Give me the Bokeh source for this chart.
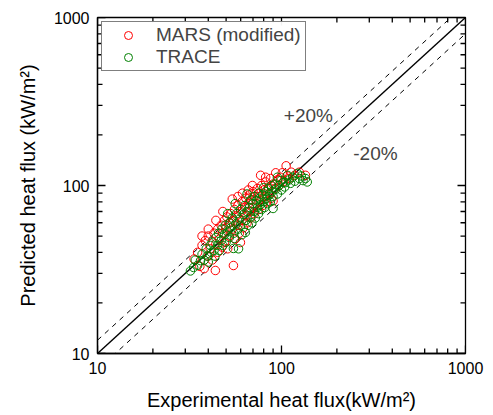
import math
from bokeh.plotting import figure
from bokeh.models import (FixedTicker, PrintfTickFormatter, Label, Legend,
                          LegendItem, Range1d)
from bokeh.embed import file_html
from bokeh.resources import INLINE

# ---- data (kW/m^2) ----
mars_x = [33.5, 35, 36, 37, 37, 38, 38.5, 40, 40, 40, 41, 42, 43, 43.7, 44, 44, 45, 45, 46, 47,
          47.5, 48, 48, 49, 49, 50, 50.5, 51, 52, 52, 53, 54, 54, 54.8, 55, 55.5, 56, 57, 58, 58,
          58, 59, 59.8, 60, 61, 61, 61.4, 62, 63, 64, 64, 65, 66, 66, 67, 67, 68, 69, 69.5, 70,
          70, 71, 72, 73, 74, 75, 76, 77, 77, 78, 79, 80, 81, 82, 82, 83, 85, 86, 87, 88,
          90, 90, 92, 93, 95, 97, 99, 101, 103, 106, 107, 110, 113, 118, 125, 135]
mars_y = [36.5, 40, 33, 44, 50, 32, 47, 38, 50, 55, 42, 36, 52, 31.2, 45, 62, 55, 40, 48, 58,
          43, 52, 70, 62, 46, 56, 65, 42, 60, 50, 68, 55, 83, 33.4, 62, 72, 48, 66, 58, 76,
          86, 52, 45.8, 70, 80, 62, 90, 56, 74, 84, 66, 60, 78, 94, 88, 70, 64, 82, 100, 92,
          74, 68, 86, 78, 96, 72, 90, 82, 115, 100, 76, 94, 86, 105, 112, 80, 98, 90, 110, 84,
          102, 81, 96, 119, 108, 100, 112, 119, 106, 131, 114, 110, 120, 115, 120, 115]

trace_x = [32, 33.3, 34, 35, 36.3, 37, 38, 39, 39.5, 40, 41, 41.5, 42, 43, 43.5, 44, 45, 45.5, 46, 47,
           47.5, 48, 49, 49.5, 50, 51, 51, 52, 52.5, 53, 54, 54.8, 55, 55.5, 56, 56.5, 57, 58, 58.4, 59,
           60, 60, 61, 62, 63, 63.6, 64, 65, 65, 66, 67, 68, 68, 69, 70, 71, 71, 72, 73, 74,
           75, 75, 76, 77, 78, 79, 79.8, 80, 81, 82, 83, 84, 85, 86, 87, 88, 89, 90, 90, 92,
           93, 95, 95, 97, 99, 100, 102, 104, 105, 108, 110, 112, 115, 118, 122, 125, 128, 131, 135, 138]
trace_y = [31, 32.5, 36, 33.5, 35.7, 39, 36, 42, 38, 35, 44, 40, 46, 41, 38, 49, 44, 52, 41, 47,
           55, 44, 51, 58, 46, 68, 53, 49, 60, 56, 64, 42.2, 52, 48.4, 78, 59, 68, 55, 42, 63,
           72, 58, 51, 67, 76, 52.5, 62, 89, 70, 58, 74, 82, 65, 60, 78, 86, 70, 64, 81, 74,
           90, 68, 84, 77, 72, 88, 97, 80, 74, 92, 84, 78, 96, 88, 80, 100, 92, 73, 86, 102,
           95, 89, 112, 100, 107, 94, 104, 98, 104, 115, 108, 103, 112, 106, 118, 110, 114, 107, 110, 105]

ratio_lines = [1.0, 1.2, 0.8]
axis_ticks = [10, 100, 1000]
minor_steps = [2, 3, 4, 5, 6, 7, 8, 9]

FONT = "Liberation Sans"
LO, HI = axis_ticks[0], axis_ticks[-1]

p = figure(width=493, height=415, x_axis_type="log", y_axis_type="log",
           x_range=Range1d(LO, HI), y_range=Range1d(LO, HI),
           output_backend="svg", toolbar_location=None,
           min_border_left=97, min_border_right=28, min_border_top=17, min_border_bottom=62)
p.xgrid.visible = False
p.ygrid.visible = False
p.outline_line_color = "black"
p.outline_line_width = 1.3

minor = [s * d for d in axis_ticks[:-1] for s in minor_steps]

for ax in (p.xaxis[0], p.yaxis[0]):
    ax.ticker = FixedTicker(ticks=axis_ticks, minor_ticks=minor)
    ax.formatter = PrintfTickFormatter(format="%d")
    ax.axis_line_color = "black"
    ax.axis_line_width = 1.3
    ax.major_tick_in = 0
    ax.major_tick_out = 0
    ax.minor_tick_in = 0
    ax.minor_tick_out = 0
    ax.major_label_text_font = FONT
    ax.major_label_text_font_size = "16px"
    ax.major_label_text_color = "black"
    ax.major_label_standoff = 8
    ax.axis_label_text_font = FONT
    ax.axis_label_text_font_size = "20px"
    ax.axis_label_text_font_style = "normal"
    ax.axis_label_text_color = "black"
    ax.axis_label_standoff = 12

p.xaxis[0].axis_label = "Experimental heat flux(kW/m²)"
p.yaxis[0].axis_label = "Predicted heat flux (kW/m²)"

# inward tick marks on all four sides (screen-length rays)
for ticks, length in ((axis_ticks, 8), (minor, 5)):
    n = len(ticks)
    p.ray(x=ticks, y=[LO] * n, length=length, length_units="screen", angle=math.pi / 2,
          line_color="black", line_width=1.3)
    p.ray(x=ticks, y=[HI] * n, length=length, length_units="screen", angle=-math.pi / 2,
          line_color="black", line_width=1.3)
    p.ray(x=[LO] * n, y=ticks, length=length, length_units="screen", angle=0,
          line_color="black", line_width=1.3)
    p.ray(x=[HI] * n, y=ticks, length=length, length_units="screen", angle=math.pi,
          line_color="black", line_width=1.3)

# reference lines (1:1 and +/-20 %)
for r in ratio_lines:
    p.line([LO, HI], [LO * r, HI * r], line_color="black",
           line_width=1.4 if r == 1.0 else 1.0,
           line_dash="solid" if r == 1.0 else "5 5")

r1 = p.scatter(mars_x, mars_y, marker="circle", size=8.5, fill_color=None,
               line_color="#ff0000", line_width=1)
r2 = p.scatter(trace_x, trace_y, marker="circle", size=8.5, fill_color=None,
               line_color="#008000", line_width=1)

legend = Legend(items=[LegendItem(label="MARS (modified)", renderers=[r1]),
                       LegendItem(label="TRACE", renderers=[r2])],
                location="top_left", border_line_color="black", border_line_width=1,
                label_text_font=FONT, label_text_font_size="19px",
                glyph_width=48, glyph_height=20, label_height=20, label_width=147,
                label_standoff=4, padding=2, spacing=0, margin=4)
p.add_layout(legend)

p.add_layout(Label(x=140, y=261, text="+20%", text_align="center", text_baseline="middle",
                   text_font=FONT, text_font_size="19px"))
p.add_layout(Label(x=324, y=155, text="-20%", text_align="center", text_baseline="middle",
                   text_font=FONT, text_font_size="19px"))

open("out.html", "w").write(file_html(p, INLINE))
